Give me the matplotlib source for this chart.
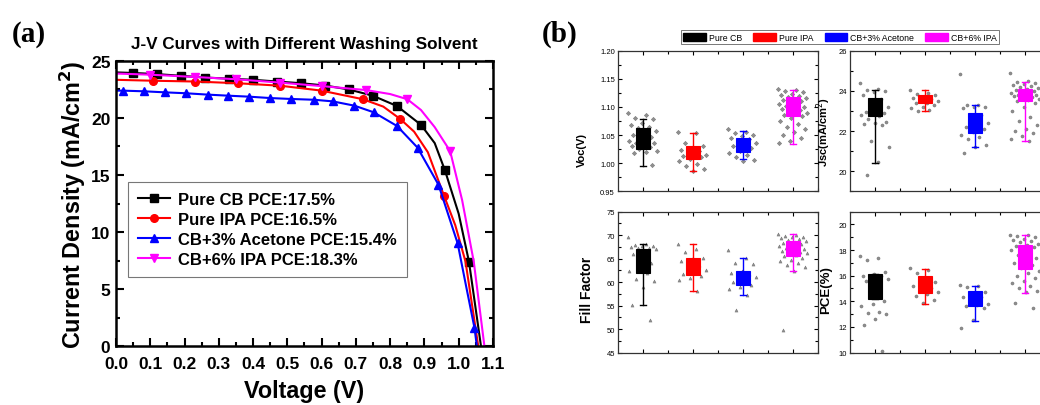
import numpy as np
import matplotlib
matplotlib.use("Agg")
import matplotlib.pyplot as plt
from matplotlib.patches import Patch
from matplotlib.ticker import MultipleLocator, FixedLocator, FormatStrFormatter

plt.rcParams['font.family'] = ['Liberation Sans', 'DejaVu Sans']

# ---- (a) J-V curves ----
v_cb = [0.0, 0.05, 0.12, 0.19, 0.26, 0.33, 0.40, 0.47, 0.54, 0.61, 0.68, 0.75, 0.82, 0.89, 0.93, 0.96,
        1.0, 1.03, 1.065]
j_cb = [24.0, 23.95, 23.85, 23.7, 23.55, 23.45, 23.35, 23.2, 23.05, 22.85, 22.5, 21.95, 21.05, 19.4,
        17.8, 15.4, 11.6, 7.4, 0.0]
v_ipa = [0.0, 0.107, 0.23, 0.355, 0.48, 0.60, 0.72, 0.78, 0.83, 0.87, 0.91, 0.957, 0.99, 1.02, 1.057]
j_ipa = [23.35, 23.27, 23.2, 23.05, 22.83, 22.4, 21.65, 21.0, 19.9, 18.8, 17.0, 13.2, 10.6, 7.4, 0.0]
v_ace = [0.0, 0.02, 0.083, 0.143, 0.204, 0.268, 0.326, 0.389, 0.45, 0.51, 0.578, 0.632, 0.696,
         0.752, 0.82, 0.88, 0.941, 0.997, 1.02, 1.046, 1.053]
j_ace = [22.4, 22.4, 22.34, 22.25, 22.17, 22.05, 21.96, 21.87, 21.75, 21.67, 21.6, 21.46, 21.08,
         20.5, 19.3, 17.4, 14.15, 9.0, 5.5, 1.6, 0.0]
v_mix = [0.0, 0.1, 0.23, 0.35, 0.48, 0.60, 0.73, 0.80, 0.85, 0.89, 0.93, 0.975, 1.01, 1.044, 1.075]
j_mix = [23.9, 23.8, 23.6, 23.4, 23.1, 22.8, 22.45, 22.1, 21.65, 20.7, 19.2, 17.1, 12.8, 7.4, 0.0]

jv_labels = ['Pure CB PCE:17.5%', 'Pure IPA PCE:16.5%', 'CB+3% Acetone PCE:15.4%', 'CB+6% IPA PCE:18.3%']

# ---- (b) box charts ----
groups = ['Pure CB', 'Pure IPA', 'CB+3% Acetone', 'CB+6% IPA']
colors = ['#000000', '#ff0000', '#0000ff', '#ff00ff']

voc_pts = [
    [1.090, 1.085, 1.080, 1.078, 1.072, 1.068, 1.065, 1.062, 1.058, 1.055, 1.050, 1.046, 1.042,
     1.040, 1.038, 1.036, 1.035, 1.033, 1.030, 1.028, 1.025, 1.022, 1.020, 1.018, 0.996],
    [1.055, 1.053, 1.035, 1.030, 1.027, 1.024, 1.021, 1.018, 1.015, 1.012, 1.012, 1.010, 1.008,
     1.003, 0.998, 0.994, 0.990, 0.986],
    [1.060, 1.056, 1.053, 1.050, 1.048, 1.045, 1.042, 1.040, 1.036, 1.033, 1.030, 1.026, 1.022,
     1.018, 1.014, 1.010, 1.006, 1.003],
    [1.132, 1.130, 1.128, 1.126, 1.124, 1.122, 1.120, 1.118, 1.116, 1.114, 1.112, 1.110, 1.108,
     1.106, 1.104, 1.102, 1.100, 1.098, 1.096, 1.094, 1.092, 1.090, 1.088, 1.086, 1.084, 1.080,
     1.075, 1.070, 1.065, 1.060, 1.055, 1.050, 1.045, 1.040, 1.036],
]
# q1, q3, whisker low, whisker high
voc_box = [(1.025, 1.063, 0.994, 1.078), (1.007, 1.030, 0.985, 1.054),
           (1.020, 1.044, 1.008, 1.058), (1.084, 1.118, 1.034, 1.131)]

jsc_pts = [
    [24.42, 24.10, 24.05, 24.00, 23.95, 23.80, 23.60, 23.40, 23.20, 23.00, 22.95, 22.90, 22.85,
     22.80, 22.75, 22.60, 22.45, 22.40, 22.35, 22.30, 21.50, 21.20, 20.45, 19.80],
    [24.05, 23.90, 23.85, 23.80, 23.72, 23.65, 23.58, 23.52, 23.48, 23.42, 23.38, 23.30, 23.22,
     23.15, 23.06, 23.00],
    [24.85, 23.32, 23.28, 23.22, 23.20, 23.15, 22.80, 22.60, 22.40, 22.30, 22.20, 22.10, 21.95,
     21.80, 21.70, 21.60, 21.30, 21.20, 20.92],
    [24.88, 24.50, 24.45, 24.40, 24.35, 24.30, 24.25, 24.20, 24.15, 24.10, 24.05, 24.00, 23.95,
     23.90, 23.85, 23.82, 23.80, 23.78, 23.75, 23.70, 23.65, 23.60, 23.55, 23.50, 23.40, 23.20,
     23.00, 22.70, 22.50, 22.30, 22.10, 22.00, 21.90, 21.75, 21.60, 21.50],
]
jsc_box = [(22.77, 23.64, 20.40, 24.06), (23.40, 23.81, 22.99, 24.05),
           (21.88, 22.90, 21.20, 23.31), (23.48, 24.10, 21.50, 24.47)]

ff_pts = [
    [69.70, 68.00, 67.80, 67.70, 67.60, 67.50, 67.30, 67.20, 67.00, 66.50, 66.00, 64.00, 63.50,
     62.30, 62.00, 60.70, 60.30, 59.00, 55.10, 51.90],
    [68.20, 67.10, 66.40, 65.20, 65.00, 64.40, 63.60, 63.10, 62.60, 62.20, 61.70, 61.20, 60.80,
     60.50, 58.10],
    [66.80, 65.20, 64.00, 63.90, 62.40, 62.00, 61.80, 61.50, 61.00, 60.50, 60.00, 59.40, 58.90,
     58.60, 57.30, 54.00],
    [70.30, 70.10, 69.90, 69.70, 69.50, 69.30, 69.10, 68.90, 68.70, 68.50, 68.30, 68.10, 67.90,
     67.70, 67.50, 67.30, 67.10, 66.90, 66.70, 66.50, 66.30, 66.10, 65.80, 65.50, 65.20, 64.80,
     64.40, 64.00, 63.60, 63.20, 62.40, 49.70],
]
ff_box = [(62.0, 67.0, 55.1, 68.0), (61.45, 65.07, 58.1, 68.2),
          (59.4, 62.4, 57.3, 65.2), (65.57, 68.76, 62.4, 70.3)]

pce_pts = [
    [17.50, 17.35, 17.25, 16.30, 16.10, 16.00, 15.95, 15.85, 15.75, 15.65, 15.60, 14.00, 13.80,
     13.60, 13.20, 13.10, 13.00, 12.60, 12.15, 10.10],
    [16.60, 16.45, 16.20, 15.50, 15.35, 15.20, 15.05, 14.90, 14.75, 14.60, 14.45, 14.10, 13.85],
    [15.30, 15.20, 15.10, 14.70, 14.40, 14.35, 14.30, 14.20, 13.80, 13.70, 13.60, 13.50, 12.50,
     11.90],
    [19.20, 19.15, 19.10, 19.00, 18.90, 18.80, 18.70, 18.60, 18.50, 18.40, 18.30, 18.20, 18.10,
     18.00, 17.80, 17.60, 17.40, 17.20, 17.00, 16.80, 16.60, 16.40, 16.20, 16.00, 15.80, 15.60,
     15.40, 15.20, 15.00, 14.80, 14.70, 13.85, 13.45],
]
pce_box = [(14.16, 16.16, 14.16, 16.16), (14.68, 15.97, 13.82, 16.55),
           (13.64, 14.80, 12.47, 15.19), (16.49, 18.39, 14.68, 19.17)]

fig = plt.figure(figsize=(10.4, 4.06), dpi=100)

# ----- panel (a) -----
ax = fig.add_axes([0.1115, 0.1453, 0.3625, 0.702])
series = [(v_cb, j_cb, 'k', 's', [1, 2, 3, 4, 5, 6, 7, 8, 9, 10, 11, 12, 13, 15, 17]),
          (v_ipa, j_ipa, '#ff0000', 'o', [1, 2, 3, 4, 5, 6, 8, 11]),
          (v_ace, j_ace, '#0000ff', '^', list(range(1, 18)) + [19]),
          (v_mix, j_mix, '#ff00ff', 'v', [1, 2, 3, 4, 5, 6, 8, 11])]
for (v, j, c, m, mk), lab in zip(series, jv_labels):
    ax.plot(v, j, color=c, marker=m, ms=5.5, lw=1.5, label=lab, markevery=mk)
ax.set_xlim(0, 1.1)
ax.set_ylim(0, 25)
ax.xaxis.set_major_locator(MultipleLocator(0.1))
ax.xaxis.set_minor_locator(MultipleLocator(0.05))
ax.yaxis.set_major_locator(MultipleLocator(5))
ax.yaxis.set_minor_locator(MultipleLocator(2.5))
ax.xaxis.set_major_formatter(FormatStrFormatter('%.1f'))
ax.tick_params(which='both', direction='in', top=True, right=True, width=1.5)
ax.tick_params(which='major', length=6, labelsize=12.5)
ax.tick_params(axis='x', which='major', pad=7)
ax.tick_params(axis='y', which='major', pad=4)
ax.tick_params(which='minor', length=3)
for t in ax.get_xticklabels() + ax.get_yticklabels():
    t.set_fontweight('bold')
for s in ax.spines.values():
    s.set_linewidth(1.8)
ax.set_xlabel('Voltage (V)', fontsize=16.8, fontweight='bold', labelpad=6)
ax.set_ylabel('Current Density (mA/cm$^\\mathbf{2}$)', fontsize=16.8, fontweight='bold', labelpad=2)
ax.set_title('J-V Curves with Different Washing Solvent', fontsize=12.3, fontweight='bold', pad=9)
leg = ax.legend(loc='upper left', bbox_to_anchor=(0.032, 0.576), frameon=True, fancybox=False,
                prop={'weight': 'bold', 'size': 12}, handlelength=1.9, borderpad=0.6,
                labelspacing=0.3, handletextpad=0.5, borderaxespad=0)
leg.get_frame().set_edgecolor('#555555')
leg.get_frame().set_linewidth(0.8)
fig.text(0.028, 0.915, '(a)', fontsize=21, fontweight='bold', family='Liberation Serif',
         ha='center', va='center')

# ----- panel (b) -----
def box_panel(rect, pts, boxes, ylim, ymajor, yminor, ylabel, lab_xy, lab_size, marker, fmt):
    bx = fig.add_axes(rect)
    pos = np.arange(1, 5)
    for p, vals in zip(pos, pts):
        n = len(vals)
        off = ((np.arange(n) * 0.618034) % 1 - 0.5) * 0.58
        bx.scatter(p + off, vals, s=5, marker=marker, color='#8f8f8f', edgecolors='#6a6a6a',
                   linewidths=0.3, zorder=2)
    stats = []
    for (q1, q3, lo, hi) in boxes:
        stats.append({'med': (q1 + q3) / 2, 'q1': q1, 'q3': q3, 'whislo': lo, 'whishi': hi})
    for k in range(4):
        c = colors[k]
        bx.bxp([stats[k]], positions=[pos[k]], widths=0.27, patch_artist=True, showfliers=False,
               boxprops=dict(facecolor=c, edgecolor=c, lw=0.8),
               whiskerprops=dict(color=c, lw=1.0), capprops=dict(color=c, lw=1.0),
               medianprops=dict(color=c, lw=0.8), capwidths=0.12, zorder=3)
    bx.set_xlim(0.5, 4.5)
    bx.set_ylim(*ylim)
    bx.xaxis.set_major_locator(FixedLocator(pos))
    bx.xaxis.set_minor_locator(FixedLocator(pos + 0.5))
    bx.set_xticklabels([])
    bx.yaxis.set_major_locator(MultipleLocator(ymajor))
    bx.yaxis.set_minor_locator(MultipleLocator(yminor))
    bx.yaxis.set_major_formatter(FormatStrFormatter(fmt))
    bx.tick_params(which='both', direction='in', top=True, right=True, width=0.8, labelsize=5.5,
                   pad=2)
    bx.tick_params(which='major', length=3)
    bx.tick_params(which='minor', length=2)
    for s in bx.spines.values():
        s.set_linewidth(0.9)
        s.set_color('#333333')
    bx.set_ylabel(ylabel, fontsize=lab_size, fontweight='bold')
    bx.yaxis.set_label_coords(*lab_xy)
    return bx

box_panel([0.594, 0.527, 0.1923, 0.345], voc_pts, voc_box, (0.95, 1.20), 0.05, 0.025,
          'Voc(V)', (-0.155, 0.3), 8, 'D', '%.2f')
box_panel([0.8173, 0.527, 0.1923, 0.345], jsc_pts, jsc_box, (19, 26), 2, 1,
          'Jsc(mA/cm$^2$)', (-0.085, 0.43), 8, 'o', '%d')
box_panel([0.594, 0.1293, 0.1923, 0.347], ff_pts, ff_box, (45, 75), 5, 2.5,
          'Fill Factor', (-0.12, 0.45), 10, '^', '%d')
box_panel([0.8173, 0.1293, 0.1923, 0.347], pce_pts, pce_box, (10, 21), 2, 1,
          'PCE(%)', (-0.09, 0.45), 9.5, 'o', '%d')

handles = [Patch(facecolor=c, edgecolor=c) for c in colors]
bleg = fig.legend(handles, groups, loc='center', bbox_to_anchor=(0.8077, 0.906), ncol=4,
                  fontsize=6.3, frameon=True, fancybox=False, handlelength=2.6, handleheight=1.1,
                  handletextpad=0.3, columnspacing=1.3, borderpad=0.3)
bleg.get_frame().set_edgecolor('#555555')
bleg.get_frame().set_linewidth(0.7)
fig.text(0.538, 0.915, '(b)', fontsize=21, fontweight='bold', family='Liberation Serif',
         ha='center', va='center')

fig.savefig('out.png', dpi=100, facecolor='white')
